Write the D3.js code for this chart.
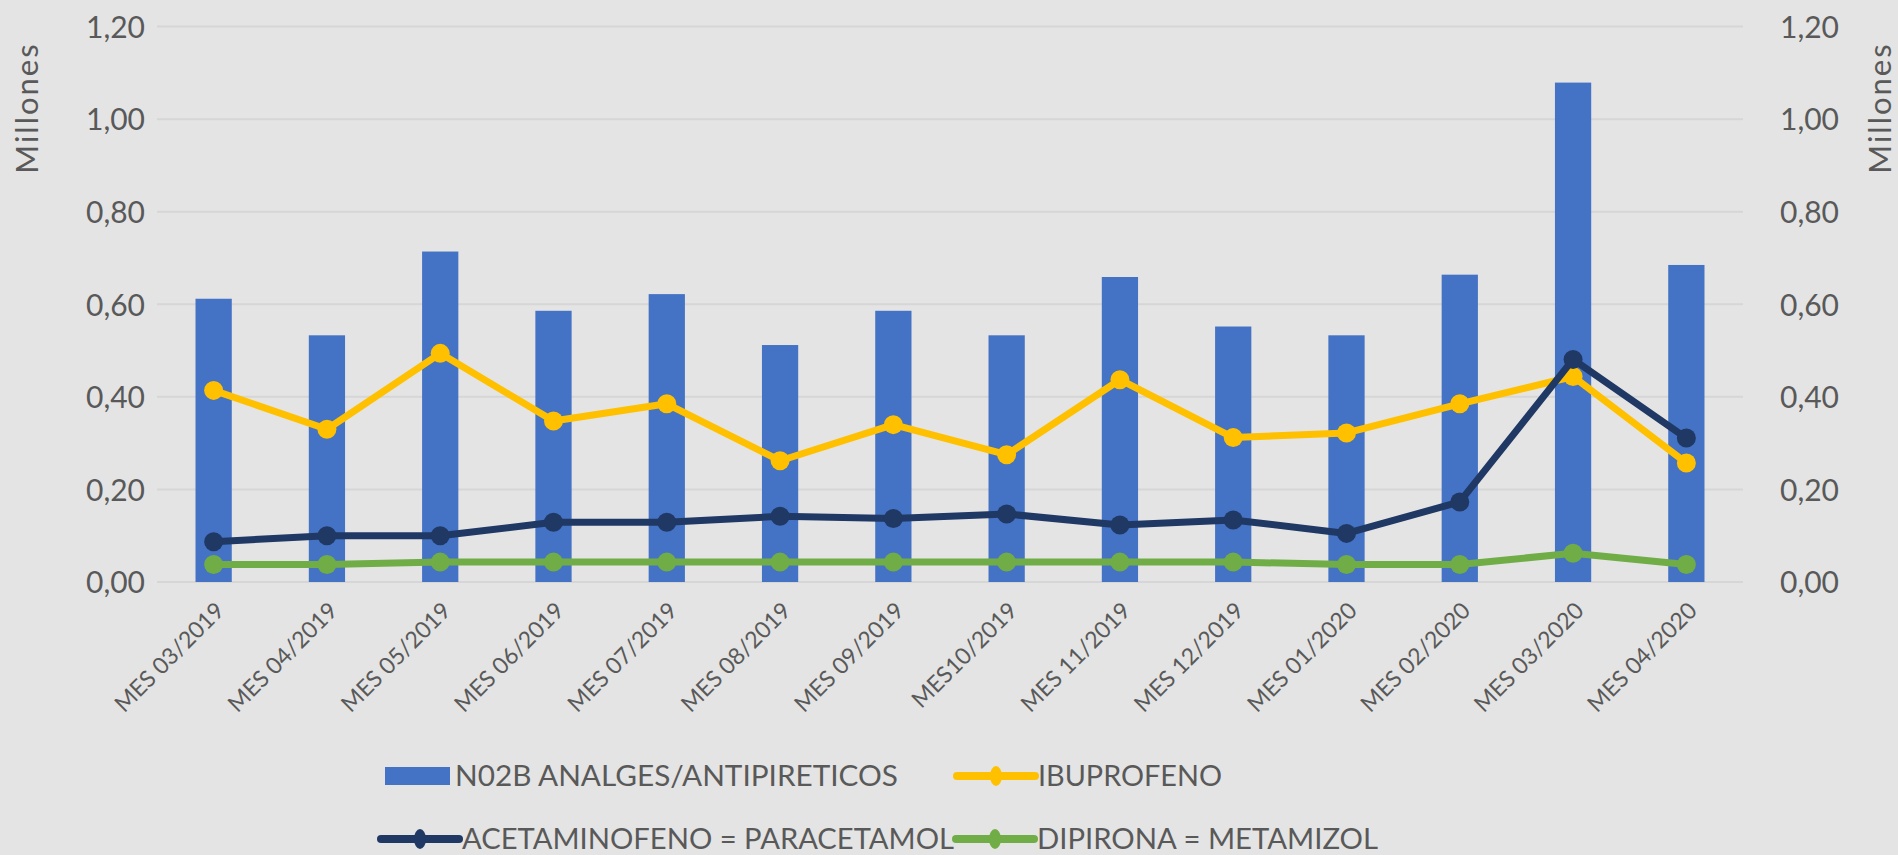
<!DOCTYPE html>
<html>
<head>
<meta charset="utf-8">
<script src="https://cdn.jsdelivr.net/npm/d3@7"></script>
<style>
  html, body { margin: 0; padding: 0; background: #e4e4e4; }
  svg { display: block; font-family: Lato, "Open Sans", sans-serif; }
</style>
</head>
<body>
<div id="chart"></div>
<script>
// Chart data (values in millions)
const months = ["MES 03/2019", "MES 04/2019", "MES 05/2019", "MES 06/2019", "MES 07/2019",
  "MES 08/2019", "MES 09/2019", "MES10/2019", "MES 11/2019", "MES 12/2019",
  "MES 01/2020", "MES 02/2020", "MES 03/2020", "MES 04/2020"];

const analgesicos = [0.612, 0.533, 0.714, 0.586, 0.622, 0.512, 0.586, 0.533, 0.659, 0.552, 0.533, 0.664, 1.079, 0.685];
const ibuprofeno = [0.414, 0.330, 0.494, 0.348, 0.385, 0.262, 0.340, 0.275, 0.437, 0.312, 0.322, 0.385, 0.444, 0.257];
const acetaminofeno = [0.087, 0.100, 0.100, 0.129, 0.129, 0.142, 0.137, 0.147, 0.123, 0.134, 0.105, 0.173, 0.481, 0.311];
const dipirona = [0.038, 0.038, 0.043, 0.043, 0.043, 0.043, 0.043, 0.043, 0.043, 0.043, 0.038, 0.038, 0.062, 0.038];

const yTicks = [0, 0.2, 0.4, 0.6, 0.8, 1.0, 1.2];

const width = 1898;
const height = 855;
const plot = { left: 157, right: 1743, top: 26.6, bottom: 582 };

const svg = d3.select("#chart").append("svg")
    .attr("width", width)
    .attr("height", height);

svg.append("rect").attr("width", width).attr("height", height).attr("fill", "#e4e4e4");

const x = d3.scaleBand().domain(months).range([plot.left, plot.right]);
const y = d3.scaleLinear().domain([0, 1.2]).range([plot.bottom, plot.top]);
const fmt = v => d3.format(".2f")(v).replace(".", ",");

// gridlines
svg.append("g")
  .selectAll("line")
  .data(yTicks)
  .join("line")
    .attr("x1", plot.left).attr("x2", plot.right)
    .attr("y1", d => y(d)).attr("y2", d => y(d))
    .attr("stroke", "#d6d6d6")
    .attr("stroke-width", 2);

// left and right axes
const leftAxis = svg.append("g")
    .attr("transform", `translate(${plot.left - 9},0)`)
    .call(d3.axisLeft(y).tickValues(yTicks).tickFormat(fmt).tickSize(0));
const rightAxis = svg.append("g")
    .attr("transform", `translate(${plot.right + 34},0)`)
    .call(d3.axisRight(y).tickValues(yTicks).tickFormat(fmt).tickSize(0));
[leftAxis, rightAxis].forEach(g => {
  g.select(".domain").remove();
  g.selectAll("text")
    .attr("font-family", "Lato, sans-serif")
    .attr("font-size", 30)
    .attr("fill", "#595959")
    .attr("dy", "0.36em");
});

// axis titles
[27, 1880].forEach(cx => {
  svg.append("text")
    .attr("transform", `translate(${cx},108) rotate(-90)`)
    .attr("text-anchor", "middle")
    .attr("dy", "0.35em")
    .attr("font-size", 31)
    .attr("letter-spacing", 2)
    .attr("fill", "#595959")
    .text("Millones");
});

// bars
const barW = x.bandwidth() * 0.32;
svg.append("g")
  .selectAll("rect")
  .data(analgesicos)
  .join("rect")
    .attr("x", (d, i) => x(months[i]) + x.bandwidth() / 2 - barW / 2)
    .attr("y", d => y(d))
    .attr("width", barW)
    .attr("height", d => y(0) - y(d))
    .attr("fill", "#4472c4");

// x labels
svg.append("g")
  .selectAll("text")
  .data(months)
  .join("text")
    .attr("transform", d => `translate(${x(d) + x.bandwidth() / 2 + 12},612) rotate(-45)`)
    .attr("text-anchor", "end")
    .attr("font-size", 23)
    .attr("fill", "#595959")
    .text(d => d);

// line series
const series = [
  { name: "IBUPROFENO", values: ibuprofeno, color: "#ffc000" },
  { name: "ACETAMINOFENO = PARACETAMOL", values: acetaminofeno, color: "#203864" },
  { name: "DIPIRONA = METAMIZOL", values: dipirona, color: "#70ad47" }
];

const line = d3.line()
    .x((d, i) => x(months[i]) + x.bandwidth() / 2)
    .y(d => y(d));

series.forEach(s => {
  const g = svg.append("g");
  g.append("path")
    .datum(s.values)
    .attr("d", line)
    .attr("fill", "none")
    .attr("stroke", s.color)
    .attr("stroke-width", 7)
    .attr("stroke-linejoin", "round");
  g.selectAll("circle")
    .data(s.values)
    .join("circle")
      .attr("cx", (d, i) => x(months[i]) + x.bandwidth() / 2)
      .attr("cy", d => y(d))
      .attr("r", 9.5)
      .attr("fill", s.color);
});

// legend
const legendItems = [
  { name: "N02B ANALGES/ANTIPIRETICOS", color: "#4472c4", type: "bar", x: 385, y: 776, len: 443 },
  { name: "IBUPROFENO", color: "#ffc000", type: "line", x: 957, y: 776, len: 184 },
  { name: "ACETAMINOFENO = PARACETAMOL", color: "#203864", type: "line", x: 381, y: 839, len: 492 },
  { name: "DIPIRONA = METAMIZOL", color: "#70ad47", type: "line", x: 956, y: 839, len: 341 }
];

const legend = svg.append("g");
legendItems.forEach(d => {
  if (d.type === "bar") {
    legend.append("rect")
      .attr("x", d.x).attr("y", d.y - 9)
      .attr("width", 65).attr("height", 18)
      .attr("fill", d.color);
  } else {
    legend.append("line")
      .attr("x1", d.x).attr("x2", d.x + 78)
      .attr("y1", d.y).attr("y2", d.y)
      .attr("stroke", d.color).attr("stroke-width", 8)
      .attr("stroke-linecap", "round");
    legend.append("ellipse")
      .attr("cx", d.x + 39).attr("cy", d.y)
      .attr("rx", 6).attr("ry", 10)
      .attr("fill", d.color);
  }
  legend.append("text")
    .attr("x", d.type === "bar" ? d.x + 70 : d.x + 81)
    .attr("y", d.y)
    .attr("dy", "0.36em")
    .attr("font-size", 29)
    .attr("fill", "#595959")
    .attr("textLength", d.len)
    .attr("lengthAdjust", "spacingAndGlyphs")
    .text(d.name);
});
</script>
</body>
</html>
